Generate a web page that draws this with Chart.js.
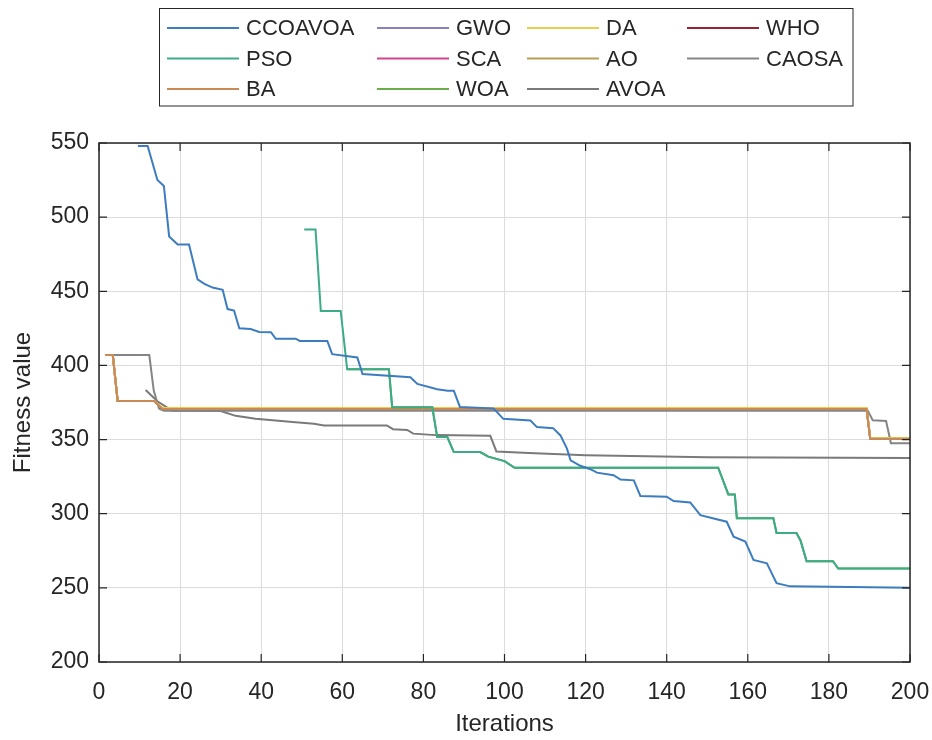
<!DOCTYPE html>
<html>
<head>
<meta charset="utf-8">
<script src="https://cdn.jsdelivr.net/npm/chart.js@4.4.1/dist/chart.umd.min.js"></script>
<style>
  html, body { margin: 0; padding: 0; background: #fff; }
  #wrap { width: 932px; height: 740px; }
</style>
</head>
<body>
<div id="wrap"><canvas id="chart" width="932" height="740"></canvas></div>
<script>
// legend order (matlab fills the legend column by column, 3 rows)
const names = ['CCOAVOA', 'PSO', 'BA', 'GWO', 'SCA', 'WOA', 'DA', 'AO', 'AVOA', 'WHO', 'CAOSA'];
const colors = ['#3d7cbf', '#3bab88', '#c98a55', '#8a80bd', '#d2448b', '#6aac4c',
  '#e8cf4c', '#b99d55', '#7a7a7a', '#9a2233', '#858585'];
// drawing order, 0 = on top
const layer = [0, 1, 3, 8, 9, 2, 4, 5, 7, 10, 6];

const xTicks = [0, 20, 40, 60, 80, 100, 120, 140, 160, 180, 200];
const yTicks = [200, 250, 300, 350, 400, 450, 500, 550];

// breakpoints: iteration / fitness value
const ccoavoaIt = [9.6, 12, 14.4, 16, 17.3, 19.4, 22.2, 24.3, 26, 28,
  30.5, 31.7, 33.3, 34.6, 37.4, 39.5, 42.4, 43.6, 48.5, 49.5,
  56.3, 57.5, 63.7, 65, 76.8, 78.5, 83.4, 86, 87.5, 89,
  97.3, 99.7, 106.4, 108, 112, 113.8, 115.4, 116.3, 118.7, 121.2,
  122.8, 126.9, 128.6, 131.9, 133.5, 140, 141.7, 145.8, 148.3, 151.6,
  154.8, 156.5, 159.4, 161.4, 164.7, 167.1, 170.4, 200];
const ccoavoaFit = [548, 548, 525, 521, 487, 481.5, 481.5, 458, 455, 452.5,
  451, 438, 437, 425, 424.5, 422.6, 422.4, 418, 418, 416.5,
  416.5, 407.6, 405.4, 394.2, 392, 387.5, 384, 383, 383, 372,
  371, 364, 362.8, 358.4, 357.7, 352.8, 343.9, 336, 332.3, 330,
  327.7, 326, 323, 322.5, 312, 311.5, 308.5, 307.6, 299, 296.8,
  294.6, 284.5, 281.2, 268.8, 266.6, 253.2, 251, 250];

const psoIt = [50.6, 53.4, 54.7, 59.6, 61.2, 71.5, 72.3, 82.2, 83.4, 85.9,
  87.5, 94, 96, 100, 102.5, 152.7, 155.2, 156.8, 157.3, 166.3,
  167.1, 172, 173, 174.5, 181, 182.3, 200];
const psoFit = [491.6, 491.6, 436.7, 436.7, 397.5, 397.5, 371.8, 371.8, 351.7, 351.7,
  341.6, 341.6, 338.5, 335.5, 331, 331, 313, 313, 297, 297,
  287, 287, 282, 268, 268, 263, 263];

const woaIt = [61.2, 71.5, 72.3, 82.2, 83.4, 85.9, 87.5, 94, 96, 100,
  102.5, 152.7, 155.2, 156.8, 157.3, 166.3, 167.1, 172, 173, 174.5,
  181, 182.3, 200];
const woaFit = [397.5, 397.5, 371.8, 371.8, 351.7, 351.7, 341.6, 341.6, 338.5, 335.5,
  331, 331, 313, 313, 297, 297, 287, 287, 282, 268,
  268, 263, 263];

const baIt = [1.5, 3.4, 4.6, 13.6, 15.7, 189.3, 190.2, 200];
const baFit = [407, 407, 376, 376, 370.6, 370.6, 350.5, 350.5];
const daFit = [407, 407, 376, 376, 371.3, 371.3, 351, 351];
const aoFit = [407, 407, 376, 376, 370.9, 370.9, 350.8, 350.8];
// GWO, SCA, WHO sit under the flat ~370 line
const gwoFit = [407, 407, 376, 376, 370.6, 370.6, 350.5, 350.5];
const scaFit = [407, 407, 376, 376, 370.6, 370.6, 350.5, 350.5];
const whoFit = [407, 407, 376, 376, 370.6, 370.6, 350.5, 350.5];

const caosaIt = [1.5, 12.4, 13.5, 14.8, 16, 189.6, 190.8, 194.1, 195.3, 200];
const caosaFit = [407, 407, 383, 371, 369.5, 369.5, 363, 362.5, 347.5, 347.5];

const avoaIt = [11.5, 14.4, 18, 30, 33.7, 38.6, 48.5, 53, 55.5, 71,
  72.5, 76, 77.5, 83, 96.5, 98, 106, 120, 150, 200];
const avoaFit = [383.4, 375.8, 369.5, 369.3, 366, 364, 361.7, 360.6, 359.5, 359.5,
  357, 356.5, 354, 353, 352.5, 342, 341, 339.5, 338, 337.5];

const pts = (it, fit) => it.map((v, i) => ({x: v, y: fit[i]}));
const series = [
  pts(ccoavoaIt, ccoavoaFit), pts(psoIt, psoFit), pts(baIt, baFit),
  pts(baIt, gwoFit), pts(baIt, scaFit), pts(woaIt, woaFit),
  pts(baIt, daFit), pts(baIt, aoFit), pts(avoaIt, avoaFit),
  pts(baIt, whoFit), pts(caosaIt, caosaFit)
];

const FONT = "'Liberation Sans', Arial, sans-serif";
const INK = '#262626';

const legendBox = {
  id: 'legendBox',
  afterDraw(chart) {
    const ctx = chart.ctx;
    const colX = [167, 377, 527, 687], rowY = [28, 58.5, 89];
    ctx.save();
    ctx.fillStyle = '#fff';
    ctx.fillRect(159.5, 8.5, 693.5, 97.5);
    ctx.strokeStyle = INK;
    ctx.lineWidth = 1;
    ctx.strokeRect(159.5, 8.5, 693.5, 97.5);
    ctx.font = '22px ' + FONT;
    ctx.textBaseline = 'middle';
    chart.data.datasets.forEach((ds, i) => {
      const x = colX[Math.floor(i / 3)], y = rowY[i % 3];
      ctx.strokeStyle = ds.borderColor;
      ctx.lineWidth = 2;
      ctx.beginPath();
      ctx.moveTo(x, y);
      ctx.lineTo(x + 72, y);
      ctx.stroke();
      ctx.fillStyle = INK;
      ctx.fillText(ds.label, x + 79, y + 1);
    });
    ctx.restore();
  }
};

// box round the axes with inward ticks on all four sides
const axesBox = {
  id: 'axesBox',
  afterDraw(chart) {
    const {ctx, chartArea: a, scales: {x, y}} = chart;
    ctx.save();
    ctx.strokeStyle = INK;
    ctx.lineWidth = 1.5;
    ctx.strokeRect(a.left, a.top, a.right - a.left, a.bottom - a.top);
    ctx.lineWidth = 1.2;
    ctx.beginPath();
    x.ticks.forEach(t => {
      const px = x.getPixelForValue(t.value);
      ctx.moveTo(px, a.bottom); ctx.lineTo(px, a.bottom - 8);
      ctx.moveTo(px, a.top); ctx.lineTo(px, a.top + 8);
    });
    y.ticks.forEach(t => {
      const py = y.getPixelForValue(t.value);
      ctx.moveTo(a.left, py); ctx.lineTo(a.left + 8, py);
      ctx.moveTo(a.right, py); ctx.lineTo(a.right - 8, py);
    });
    ctx.stroke();
    ctx.restore();
  }
};

new Chart(document.getElementById('chart'), {
  type: 'line',
  data: {
    datasets: names.map((n, i) => ({
      label: n,
      data: series[i],
      borderColor: colors[i],
      backgroundColor: colors[i],
      borderWidth: 2,
      pointRadius: 0,
      tension: 0,
      fill: false,
      order: layer[i]
    }))
  },
  options: {
    responsive: false,
    animation: false,
    layout: {padding: {left: 0, right: 22, top: 143, bottom: 0}},
    plugins: {legend: {display: false}, tooltip: {enabled: false}},
    scales: {
      x: {
        type: 'linear', min: 0, max: 200,
        afterBuildTicks: s => { s.ticks = xTicks.map(v => ({value: v})); },
        afterFit: s => { s.height = 78; s.paddingLeft = 0; s.paddingRight = 0; },
        grid: {color: '#dcdcdc', drawTicks: false},
        border: {display: false},
        ticks: {color: INK, font: {family: FONT, size: 23}, padding: 17, maxRotation: 0},
        title: {display: true, text: 'Iterations', color: INK,
          font: {family: FONT, size: 24}, padding: {top: 0, bottom: 1}}
      },
      y: {
        type: 'linear', min: 200, max: 550,
        afterBuildTicks: s => { s.ticks = yTicks.map(v => ({value: v})); },
        afterFit: s => { s.width = 99; s.paddingTop = 0; s.paddingBottom = 0; },
        grid: {color: '#dcdcdc', drawTicks: false},
        border: {display: false},
        ticks: {color: INK, font: {family: FONT, size: 23}, padding: 10},
        title: {display: true, text: 'Fitness value', color: INK,
          font: {family: FONT, size: 24}, padding: {top: 9, bottom: 0}}
      }
    }
  },
  plugins: [legendBox, axesBox]
});
</script>
</body>
</html>
